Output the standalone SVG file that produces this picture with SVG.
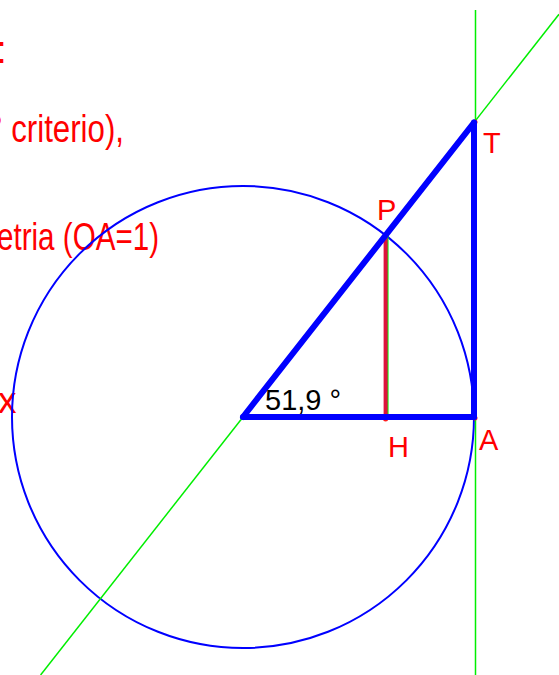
<svg xmlns="http://www.w3.org/2000/svg" width="559" height="675" viewBox="0 0 559 675">
<style>
  .txt{font-family:"Liberation Sans",Arial,sans-serif;fill:#ff0000}
  .lbl{font-family:"Liberation Sans",Arial,sans-serif;fill:#ff0000;font-size:29px}
  .green{stroke:#00ee00;stroke-width:1.5;fill:none}
  .thick{stroke:#0000ff;stroke-width:6;stroke-linecap:round;fill:none}
  .pt{fill:#ff2020}
</style>
<rect width="559" height="675" fill="#ffffff"/>
<g id="texts">
  <text class="txt" x="-4" y="63" font-size="39">:</text>
  <text class="txt" x="-10" y="142" font-size="38" textLength="134" lengthAdjust="spacingAndGlyphs">° criterio),</text>
  <text class="txt" x="-3" y="250" font-size="38" textLength="162" lengthAdjust="spacingAndGlyphs">etria (OA=1)</text>
  <text class="txt" x="-2" y="413" font-size="37">x</text>
</g>
<g id="circle">
  <circle cx="243" cy="417" r="231" fill="none" stroke="#0000ff" stroke-width="2"/>
</g>
<g id="connectors">
  <line class="green" x1="40.6" y1="675" x2="559" y2="14.2"/>
  <line class="green" x1="475.5" y1="10" x2="475.5" y2="675"/>
  <line class="green" x1="387.8" y1="235.3" x2="387.8" y2="417"/>
  <circle class="pt" cx="385.6" cy="419" r="2.5"/>
  <circle class="pt" cx="475" cy="418" r="2.5"/>
  <circle class="pt" cx="475" cy="122" r="2.5"/>
  <line x1="385.6" y1="235.3" x2="385.6" y2="417" stroke="#dc143c" stroke-width="4"/>
  <line class="thick" x1="243" y1="417" x2="474" y2="417"/>
  <line class="thick" x1="474" y1="417" x2="474" y2="122.6"/>
  <line class="thick" x1="243" y1="417" x2="474" y2="122.6"/>
</g>
<g id="angle">
  <text x="265" y="410" font-family="Liberation Sans, Arial, sans-serif" font-size="29" fill="#000000">51,9 °</text>
</g>
<g id="label-P"><text class="lbl" x="377" y="220">P</text></g>
<g id="label-T"><text class="lbl" x="483" y="153">T</text></g>
<g id="label-H"><text class="lbl" x="388" y="457">H</text></g>
<g id="label-A"><text class="lbl" x="479" y="450">A</text></g>
</svg>
